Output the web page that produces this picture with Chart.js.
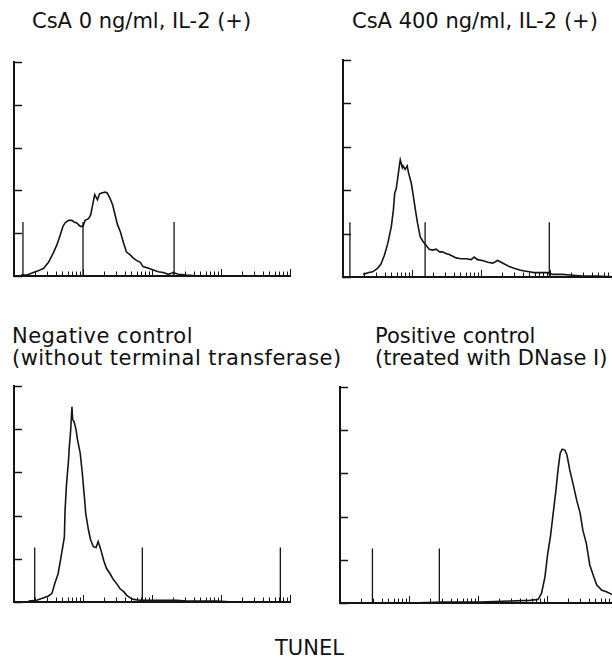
<!DOCTYPE html>
<html>
<head>
<meta charset="utf-8">
<script src="https://cdn.jsdelivr.net/npm/chart.js@4.4.1/dist/chart.umd.min.js"></script>
<style>
  html, body { margin: 0; padding: 0; width: 612px; height: 658px; overflow: hidden; background: #fff; }
  canvas { position: absolute; }
  .lbl { position: absolute; font-family: "DejaVu Sans", sans-serif; font-size: 21px; line-height: 22px; color: #111; white-space: nowrap; }
</style>
</head>
<body>
<div class="lbl" style="left:32px; top:10px">CsA 0 ng/ml, IL-2 (+)</div>
<div class="lbl" style="left:352px; top:10px">CsA 400 ng/ml, IL-2 (+)</div>
<div class="lbl" style="left:12px; top:325px; letter-spacing:0.45px">Negative control<br>(without terminal transferase)</div>
<div class="lbl" style="left:375px; top:325px">Positive control<br>(treated with DNase I)</div>
<div class="lbl" style="left:275px; top:637px">TUNEL</div>

<canvas id="p1" width="296" height="234" style="left:4px; top:52px"></canvas>
<canvas id="p2" width="296" height="237" style="left:333px; top:50px"></canvas>
<canvas id="p3" width="296" height="236" style="left:4px; top:376px"></canvas>
<canvas id="p4" width="296" height="236" style="left:330px; top:377px"></canvas>

<script>
// TUNEL fluorescence, stored as log10 of intensity (4-decade log axis)
// CsA 0 ng/ml, IL-2 (+)
const p1Log = [0.10, 0.18, 0.28, 0.35, 0.43, 0.50, 0.57, 0.62, 0.67, 0.71,
               0.74, 0.79, 0.84, 0.87, 0.91, 0.96, 1.00, 1.03, 1.08, 1.11,
               1.14, 1.17, 1.21, 1.24, 1.27, 1.32, 1.35, 1.39, 1.43, 1.46,
               1.50, 1.54, 1.59, 1.63, 1.68, 1.73, 1.78, 1.83, 1.87, 1.95,
               2.02, 2.09, 2.16, 2.24, 2.31, 2.38, 2.50, 2.70, 3.18, 4.00];
const p1Counts = [1, 1, 4, 6, 9, 16, 27, 36, 48, 58,
                  62, 65, 65, 63, 62, 58, 58, 65, 67, 71,
                  83, 95, 89, 96, 97, 98, 97, 91, 83, 73,
                  60, 52, 38, 28, 25, 21, 18, 16, 11, 9,
                  7, 5, 4, 2, 4, 2, 1, 0, 0, 0];
const p1Markers = [0.13, 1.00, 2.32];

// CsA 400 ng/ml, IL-2 (+)
const p2Log = [0.29, 0.36, 0.43, 0.50, 0.55, 0.60, 0.65, 0.70, 0.73, 0.75,
               0.77, 0.79, 0.82, 0.83, 0.86, 0.87, 0.90, 0.93, 0.95, 0.99,
               1.02, 1.05, 1.08, 1.12, 1.16, 1.20, 1.25, 1.30, 1.35, 1.40,
               1.44, 1.49, 1.54, 1.59, 1.64, 1.71, 1.78, 1.86, 1.90, 1.95,
               2.02, 2.10, 2.17, 2.24, 2.29, 2.34, 2.41, 2.48, 2.56, 2.63,
               2.70, 2.77, 2.87, 2.97, 3.04, 3.18, 3.33, 3.47, 3.67, 4.00];
const p2Counts = [3, 5, 6, 10, 15, 25, 39, 58, 77, 97,
                  101, 112, 130, 135, 126, 128, 124, 128, 120, 108,
                  93, 77, 62, 46, 41, 37, 32, 31, 32, 29,
                  29, 27, 26, 24, 22, 21, 21, 20, 23, 20,
                  19, 17, 16, 19, 17, 15, 12, 10, 8, 7,
                  6, 5, 5, 5, 3, 3, 2, 1, 1, 0];
const p2Markers = [0.10, 1.19, 2.99];

// Negative control
const p3Log = [0.21, 0.33, 0.43, 0.50, 0.55, 0.59, 0.64, 0.69, 0.73, 0.74,
               0.76, 0.79, 0.80, 0.82, 0.84, 0.85, 0.87, 0.90, 0.92, 0.96,
               0.99, 1.02, 1.04, 1.08, 1.11, 1.15, 1.19, 1.22, 1.26, 1.30,
               1.34, 1.39, 1.44, 1.49, 1.54, 1.59, 1.63, 1.68, 1.73, 1.83,
               1.92, 2.07, 2.21, 2.36, 2.50, 2.70, 2.94, 3.18, 3.66, 4.00];
const p3Counts = [1, 2, 5, 7, 10, 21, 33, 56, 75, 106,
                  135, 164, 178, 197, 226, 211, 209, 199, 188, 172,
                  149, 122, 102, 83, 72, 64, 63, 70, 60, 48,
                  39, 33, 26, 21, 15, 12, 8, 5, 3, 2,
                  2, 2, 2, 2, 1, 1, 1, 0, 0, 0];
const p3Markers = [0.30, 1.86, 3.86];

// Positive control (DNase I)
const p4Log = [0.05, 0.50, 1.00, 1.50, 2.02, 2.36, 2.75, 2.87, 2.92, 2.97,
               3.01, 3.05, 3.09, 3.13, 3.16, 3.19, 3.22, 3.26, 3.29, 3.33,
               3.38, 3.43, 3.48, 3.52, 3.57, 3.62, 3.67, 3.72, 3.79, 3.86,
               3.94, 4.00];
const p4Counts = [0, 0, 0, 1, 1, 2, 3, 4, 11, 30,
                  57, 77, 104, 131, 154, 173, 178, 177, 171, 154,
                  137, 119, 104, 84, 69, 44, 32, 21, 15, 13,
                  10, 7];
const p4Markers = [0.47, 1.44];

const markerHeight = 63;
const yTicks = [0, 50, 100, 150, 200, 250];
const decades = [1, 10, 100, 1000];
const mantissas = [1, 2, 3, 4, 5, 6, 7, 8, 9];

const ink = "#151515";

// log axis tick marks, pointing inward like the cytometer plots
const inwardTicks = {
  id: "inwardTicks",
  afterDatasetsDraw(chart) {
    const { ctx, chartArea, scales: { x, y } } = chart;
    ctx.save();
    ctx.strokeStyle = ink;
    ctx.lineWidth = 1;
    decades.forEach(d => {
      mantissas.forEach(m => {
        const px = Math.round(x.getPixelForValue(d * m)) + 0.5;
        const len = m === 1 ? 7 : 4.5;
        ctx.beginPath();
        ctx.moveTo(px, chartArea.bottom);
        ctx.lineTo(px, chartArea.bottom - len);
        ctx.stroke();
      });
    });
    const pEnd = Math.round(x.getPixelForValue(10000)) + 0.5;
    ctx.beginPath();
    ctx.moveTo(pEnd, chartArea.bottom);
    ctx.lineTo(pEnd, chartArea.bottom - 7);
    ctx.stroke();

    ctx.lineWidth = 1.5;
    yTicks.forEach(v => {
      const py = Math.round(y.getPixelForValue(v)) + 0.5;
      ctx.beginPath();
      ctx.moveTo(chartArea.left, py);
      ctx.lineTo(chartArea.left + 8, py);
      ctx.stroke();
    });
    ctx.restore();
  }
};

function drawPanel(id, logs, counts, markers) {
  const curve = logs.map((d, i) => ({ x: 10 ** d, y: counts[i] }));
  const gates = [];
  markers.forEach(m => {
    gates.push({ x: 10 ** m, y: 0 }, { x: 10 ** m, y: markerHeight }, { x: 10 ** m, y: null });
  });

  new Chart(document.getElementById(id), {
    type: "line",
    data: {
      datasets: [
        {
          data: curve,
          borderColor: ink,
          borderWidth: 1.6,
          pointRadius: 0,
          tension: 0,
          clip: false,
        },
        {
          data: gates,
          borderColor: ink,
          borderWidth: 1.3,
          pointRadius: 0,
          spanGaps: false,
          clip: false,
        },
      ],
    },
    options: {
      responsive: false,
      animation: false,
      devicePixelRatio: 1,
      events: [],
      layout: { padding: 10 },
      plugins: { legend: { display: false }, tooltip: { enabled: false } },
      scales: {
        x: {
          type: "logarithmic",
          min: 1,
          max: 10000,
          ticks: { display: false },
          grid: { display: false, drawTicks: false },
          border: { display: true, width: 2, color: ink },
        },
        y: {
          min: 0,
          max: 250,
          ticks: { display: false, stepSize: 50 },
          grid: { display: false, drawTicks: false },
          border: { display: true, width: 2, color: ink },
        },
      },
    },
    plugins: [inwardTicks],
  });
}

drawPanel("p1", p1Log, p1Counts, p1Markers);
drawPanel("p2", p2Log, p2Counts, p2Markers);
drawPanel("p3", p3Log, p3Counts, p3Markers);
drawPanel("p4", p4Log, p4Counts, p4Markers);
</script>
</body>
</html>
